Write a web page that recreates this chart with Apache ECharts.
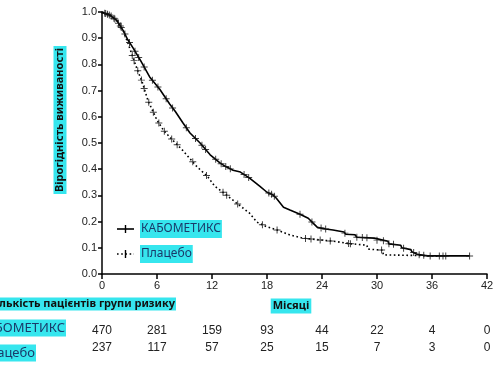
<!DOCTYPE html>
<html>
<head>
<meta charset="utf-8">
<script src="https://cdn.jsdelivr.net/npm/echarts@6/dist/echarts.min.js"></script>
<style>
  html, body { margin: 0; padding: 0; background: #fff; }
  #chart { width: 500px; height: 375px; }
</style>
</head>
<body>
<div id="chart"></div>
<script>
// Kaplan-Meier curves [month, survival]
const caboCurve = [
  [0, 1.0], [0.9, 0.987], [1.6, 0.968], [2.3, 0.93], [2.8, 0.895], [3.4, 0.862],
  [4.2, 0.815], [5.2, 0.752], [6.3, 0.705], [7.4, 0.648], [8.0, 0.62], [8.8, 0.578],
  [9.6, 0.538], [10.7, 0.5], [11.8, 0.455], [12.9, 0.423], [13.5, 0.41], [14.3, 0.396],
  [15.1, 0.389], [16.1, 0.366], [17.2, 0.335], [18.0, 0.312], [18.6, 0.303], [19.0, 0.29],
  [19.8, 0.255], [20.5, 0.244], [21.6, 0.228], [22.5, 0.213], [23.0, 0.195], [23.5, 0.178],
  [24.4, 0.172], [25.2, 0.168], [26.4, 0.16], [26.6, 0.152], [27.6, 0.15], [27.8, 0.14],
  [29.7, 0.137], [29.8, 0.13], [31.2, 0.125], [31.3, 0.115], [32.6, 0.11], [32.7, 0.1],
  [33.7, 0.093], [33.8, 0.085], [34.4, 0.075], [35.5, 0.069], [40.1, 0.069]
];
const placeboCurve = [
  [0, 1.0], [0.9, 0.987], [1.6, 0.968], [2.3, 0.93], [2.8, 0.884], [3.3, 0.834],
  [3.8, 0.785], [4.4, 0.731], [5.0, 0.663], [6.0, 0.587], [6.7, 0.549], [7.4, 0.522],
  [8.8, 0.472], [10.4, 0.408], [11.5, 0.373], [12.3, 0.335], [13.2, 0.312], [14.7, 0.27],
  [16.1, 0.232], [16.9, 0.198], [17.8, 0.183], [19.1, 0.168], [20.5, 0.149], [21.9, 0.137],
  [23.8, 0.13], [25.5, 0.124], [27.0, 0.116], [28.9, 0.11], [29.0, 0.095], [30.6, 0.091],
  [30.7, 0.073], [36.9, 0.069]
];
// censoring times (months)
const caboCensor = [0.3, 0.6, 1.0, 1.3, 1.8, 2.1, 2.5, 3.0, 3.6, 4.0, 4.6, 5.5, 6.1, 7.0, 7.7,
  9.2, 10.2, 10.9, 11.3, 12.4, 13.0, 13.5, 14.0, 15.5, 16.0, 18.2, 18.5, 18.8, 21.6, 22.9,
  23.9, 24.4, 26.5, 27.8, 28.4, 28.9, 30.0, 30.7, 31.3, 31.8, 32.9, 34.0, 34.6, 35.1, 35.8,
  36.8, 37.2, 37.5, 40.1];
const placeboCensor = [0.4, 0.8, 1.4, 2.0, 3.3, 3.5, 3.9, 4.3, 4.6, 5.1, 5.6, 6.2, 6.8, 7.6,
  8.2, 9.9, 11.4, 13.2, 13.6, 14.8, 17.5, 19.1, 22.2, 22.8, 23.8, 24.9, 26.9, 27.1, 30.5];
const xTicks = [0, 6, 12, 18, 24, 30, 36, 42];
const caboAtRisk = [470, 281, 159, 93, 44, 22, 4, 0];
const placeboAtRisk = [237, 117, 57, 25, 15, 7, 3, 0];

const cyan = '#36e6ee';
const plus = 'path://M4.3,0H5.7V4.3H10V5.7H5.7V10H4.3V5.7H0V4.3H4.3Z';
const tickFont = '"Liberation Sans Narrow", "Liberation Sans", Arial, sans-serif';

// value of a polyline curve at time t (linear between read points)
function survAt(curve, t) {
  for (let i = 1; i < curve.length; i++) {
    const a = curve[i - 1], b = curve[i];
    if (t <= b[0]) return a[1] + (b[1] - a[1]) * (t - a[0]) / (b[0] - a[0]);
  }
  return curve[curve.length - 1][1];
}

const chart = echarts.init(document.getElementById('chart'));
chart.setOption({
  animation: false,
  backgroundColor: '#fff',
  grid: { left: 102, right: 13, top: 12, bottom: 101 },
  xAxis: {
    type: 'value', min: 0, max: 42, interval: 6,
    axisLine: { lineStyle: { color: '#000', width: 1.5 } },
    axisTick: { length: 5, lineStyle: { color: '#000', width: 1.5 } },
    axisLabel: { color: '#222', fontSize: 11, fontFamily: tickFont, margin: 6 },
    splitLine: { show: false }
  },
  yAxis: {
    type: 'value', min: 0, max: 1, interval: 0.1,
    axisLine: { show: true, lineStyle: { color: '#000', width: 1.5 } },
    axisTick: { show: true, length: 4, lineStyle: { color: '#000', width: 1.5 } },
    axisLabel: { color: '#222', fontSize: 11, fontFamily: tickFont, margin: 5,
      formatter: v => v.toFixed(1) },
    splitLine: { show: false }
  },
  series: [
    {
      name: 'КАБОМЕТИКС', type: 'line', data: caboCurve,
      showSymbol: false, lineStyle: { color: '#000', width: 1.6 }, z: 3
    },
    {
      name: 'Плацебо', type: 'line', data: placeboCurve,
      showSymbol: false, lineStyle: { color: '#000', width: 1.6, type: [1.6, 2.6] }, z: 2
    },
    {
      type: 'scatter', symbol: plus, symbolSize: 7,
      itemStyle: { color: '#111' },
      data: caboCensor.map(t => [t, survAt(caboCurve, t)]), z: 4
    },
    {
      type: 'scatter', symbol: plus, symbolSize: 7,
      itemStyle: { color: '#111' },
      data: placeboCensor.map(t => [t, survAt(placeboCurve, t)]), z: 4
    }
  ]
});

// risk table, legend and titles
const g = [];
const row1Y = 331, row2Y = 348;
xTicks.forEach((t, i) => {
  const x = chart.convertToPixel({ xAxisIndex: 0 }, t);
  g.push({ type: 'text', x: x, y: row1Y, style: { text: String(caboAtRisk[i]),
    fill: '#222', font: '12px ' + tickFont, textAlign: 'center', textVerticalAlign: 'middle' } });
  g.push({ type: 'text', x: x, y: row2Y, style: { text: String(placeboAtRisk[i]),
    fill: '#222', font: '12px ' + tickFont, textAlign: 'center', textVerticalAlign: 'middle' } });
});
const labelFont = '"Noto Sans", "Open Sans", sans-serif';
g.push(
  { type: 'text', x: 176, y: 304, style: { text: 'Кількість пацієнтів групи ризику',
    fill: '#111', font: 'bold 11px ' + labelFont, textAlign: 'right', textVerticalAlign: 'middle',
    backgroundColor: cyan, padding: [1, 1] } },
  { type: 'text', x: 291, y: 306, style: { text: 'Місяці',
    fill: '#111', font: 'bold 11px ' + labelFont, textAlign: 'center', textVerticalAlign: 'middle',
    backgroundColor: cyan, padding: [2, 2] } },
  { type: 'text', x: 66, y: 328, style: { text: 'КАБОМЕТИКС',
    fill: '#1a3a6a', font: '13px ' + labelFont, textAlign: 'right', textVerticalAlign: 'middle',
    backgroundColor: cyan, padding: [2, 1] } },
  { type: 'text', x: 36, y: 353, style: { text: 'Плацебо',
    fill: '#1a3a6a', font: '13px ' + labelFont, textAlign: 'right', textVerticalAlign: 'middle',
    backgroundColor: cyan, padding: [2, 1] } },
  { type: 'text', x: 60, y: 120, rotation: Math.PI / 2, style: { text: 'Вірогідність виживаності',
    fill: '#111', font: 'bold 11px ' + labelFont, textAlign: 'center', textVerticalAlign: 'middle',
    backgroundColor: cyan, padding: [1, 2] } },
  // legend
  { type: 'line', shape: { x1: 117, y1: 229, x2: 134, y2: 229 }, style: { stroke: '#000', lineWidth: 1.6 } },
  { type: 'line', shape: { x1: 125.5, y1: 225, x2: 125.5, y2: 233 }, style: { stroke: '#000', lineWidth: 1.4 } },
  { type: 'line', shape: { x1: 117, y1: 254, x2: 134, y2: 254 }, style: { stroke: '#000', lineWidth: 1.6, lineDash: [1.6, 2.6] } },
  { type: 'line', shape: { x1: 125.5, y1: 250, x2: 125.5, y2: 258 }, style: { stroke: '#000', lineWidth: 1.4 } },
  { type: 'text', x: 140, y: 229, style: { text: 'КАБОМЕТИКС',
    fill: '#1a3a6a', font: '12px ' + labelFont, textAlign: 'left', textVerticalAlign: 'middle',
    backgroundColor: cyan, padding: [3, 1] } },
  { type: 'text', x: 140, y: 254, style: { text: 'Плацебо',
    fill: '#1a3a6a', font: '12px ' + labelFont, textAlign: 'left', textVerticalAlign: 'middle',
    backgroundColor: cyan, padding: [3, 1] } }
);
chart.setOption({ graphic: g });
</script>
</body>
</html>
